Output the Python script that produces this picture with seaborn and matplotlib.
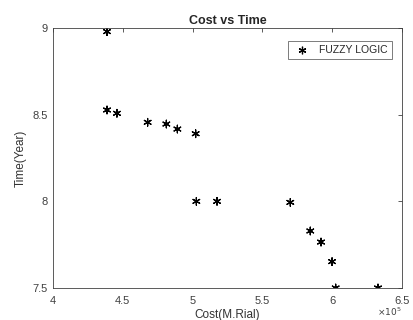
import matplotlib
matplotlib.use("Agg")
import matplotlib.pyplot as plt
import seaborn as sns
import pandas as pd
from matplotlib.ticker import FuncFormatter

cost = [438700, 438700, 445800, 467800, 481200, 489100, 502200,
        502700, 517500, 570000, 584300, 592000, 599900, 602500, 632800]
time = [8.979, 8.527, 8.508, 8.456, 8.446, 8.417, 8.390,
        8.000, 8.000, 7.994, 7.829, 7.765, 7.652, 7.500, 7.500]

df = pd.DataFrame({"cost": cost, "time": time, "method": "FUZZY LOGIC"})

sns.set_style("white")
plt.rcParams["font.family"] = ["Liberation Sans", "DejaVu Sans"]

fig = plt.figure(figsize=(4.14, 3.2), dpi=100)
ax = fig.add_axes([0.128, 0.1, 0.843, 0.8125])
sns.scatterplot(data=df, x="cost", y="time", hue="method", palette=["black"],
                marker=(6, 2, 0), s=30, linewidth=0.9, edgecolor="black", ax=ax)

ax.set_xlim(400000, 650000)
ax.set_ylim(7.5, 9)
ax.set_xticks([400000, 450000, 500000, 550000, 600000, 650000])
ax.set_yticks([7.5, 8, 8.5, 9])
ax.xaxis.set_major_formatter(FuncFormatter(lambda v, p: f"{v / 1e5:g}"))
ax.yaxis.set_major_formatter(FuncFormatter(lambda v, p: f"{v:g}"))
ax.tick_params(direction="in", length=3, labelsize=8, colors="#404040",
               top=True, right=True, width=0.6, pad=4)
ax.tick_params(axis="x", pad=6)
for s in ax.spines.values():
    s.set_color("#404040")
    s.set_linewidth(0.6)

ax.set_title("Cost vs Time", fontsize=9, fontweight="bold", pad=3)
ax.set_xlabel("Cost(M.Rial)", fontsize=8.5, color="#333333", labelpad=2)
ax.set_ylabel("Time(Year)", fontsize=8.5, color="#333333", labelpad=4)
ax.text(1.0, -0.092, r"$\times10^5$", transform=ax.transAxes, fontsize=6.5,
        color="#404040", ha="right", va="center")

leg = ax.legend(loc="upper right", fontsize=7.5, frameon=True, fancybox=False,
                edgecolor="#404040", borderpad=0.4, handletextpad=0.6,
                bbox_to_anchor=(0.985, 0.97))
leg.get_frame().set_linewidth(0.6)

fig.savefig("out.png", dpi=100)
